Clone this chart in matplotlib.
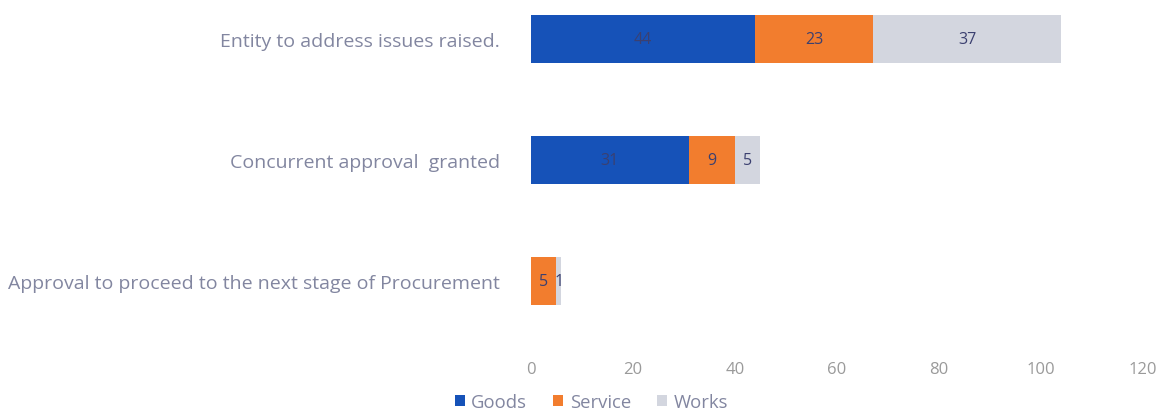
import numpy as np
import matplotlib.pyplot as plt

plt.rcParams['font.family'] = ['Open Sans', 'DejaVu Sans']

# bottom to top
categories = ['Approval to proceed to the next stage of Procurement',
              'Concurrent approval  granted',
              'Entity to address issues raised.']
goods = [0, 31, 44]
service = [5, 9, 23]
works = [1, 5, 37]

colors = ['#1652b8', '#f27d2e', '#d3d6df']
names = ['Goods', 'Service', 'Works']

fig = plt.figure(figsize=(11.64, 4.10), dpi=100)
ax = fig.add_axes([0.456, 0.1585, 0.526, 0.8415])

y = np.arange(len(categories))
left = np.zeros(len(categories))
for vals, c, n in zip([goods, service, works], colors, names):
    vals = np.array(vals)
    bars = ax.barh(y, vals, left=left, height=0.4, color=c, label=n)
    for b, v in zip(bars, vals):
        if v > 0:
            ax.text(b.get_x() + b.get_width() / 2, b.get_y() + b.get_height() / 2,
                    str(v), ha='center', va='center', fontsize=11.5, color='#3b4070')
    left += vals

ax.set_xlim(0, 120)
ax.set_ylim(-0.52, 2.33)
ax.set_xticks(np.arange(0, 121, 20))
ax.set_yticks(y)
ax.set_yticklabels(categories)
for s in ax.spines.values():
    s.set_visible(False)
ax.tick_params(axis='both', length=0, colors='#9a9a9a', labelsize=12)
ax.tick_params(axis='x', pad=12)
ax.tick_params(axis='y', pad=22, labelsize=14)
for t in ax.get_yticklabels():
    t.set_color('#8286a0')

fig.legend(loc='lower center', bbox_to_anchor=(0.508, -0.045), ncol=3, frameon=False,
           fontsize=13.3, handlelength=0.55, handleheight=0.55, handletextpad=0.35,
           columnspacing=1.4, labelcolor='#8286a0')

fig.savefig('out.png', dpi=100)
